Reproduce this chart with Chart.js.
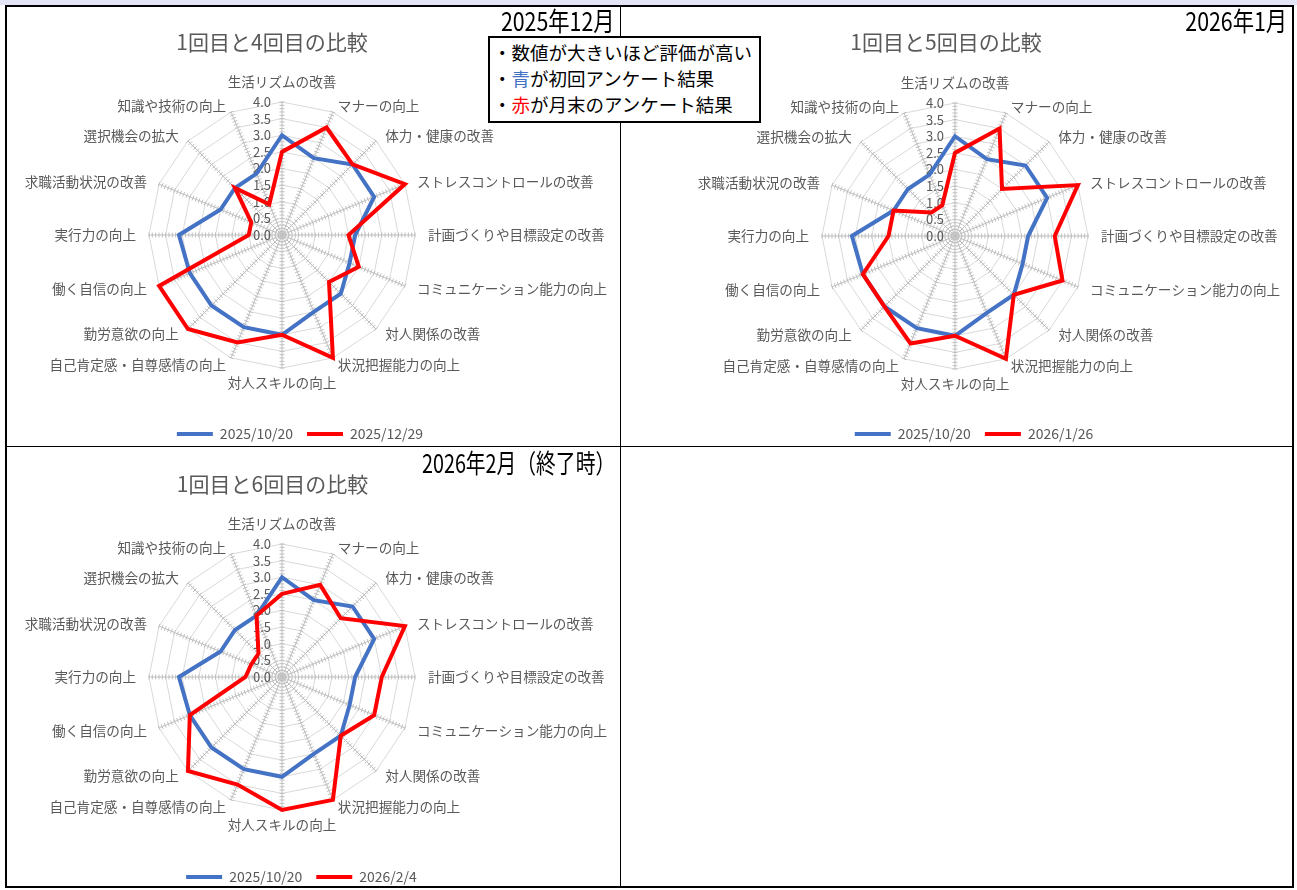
<!DOCTYPE html>
<html>
<head>
<meta charset="utf-8">
<script src="https://cdn.jsdelivr.net/npm/chart.js@4.4.1/dist/chart.umd.min.js"></script>
<style>
  html, body { margin: 0; padding: 0; background: #fff; overflow: hidden; }
  body { width: 1297px; height: 890px; position: relative; font-family: "Noto Sans CJK JP", sans-serif; }
  #band { position: absolute; left: 0; top: 0; width: 1297px; height: 5px; background: #e3e5f7; }
  #frame { position: absolute; left: 5px; top: 5px; width: 1285px; height: 879px; border: 2px solid #000; }
  .vline { position: absolute; left: 620px; top: 6px; width: 1px; height: 880px; background: #000; }
  .hline { position: absolute; left: 6px; top: 446px; width: 1286px; height: 1px; background: #000; }
  canvas { position: absolute; }
  .period { position: absolute; font-size: 26px; line-height: 1; color: #000; white-space: nowrap;
            transform: scaleX(0.82); transform-origin: right top; }
  #note { position: absolute; left: 488px; top: 36px; width: 266px; height: 82px; border: 2px solid #000;
          background: #fff; font-size: 18.5px; line-height: 26px; padding: 1px 0 0 3px; box-sizing: content-box;
          color: #000; white-space: nowrap; }
  #note .b { color: #4472c4; }
  #note .r { color: #ff0000; }
</style>
</head>
<body>
<div id="band"></div>
<div id="frame"></div>
<div class="vline"></div>
<div class="hline"></div>

<canvas id="c1" width="614" height="444" style="left:7px;top:7px"></canvas>
<canvas id="c2" width="669" height="444" style="left:622px;top:7px"></canvas>
<canvas id="c3" width="614" height="446" style="left:7px;top:448px"></canvas>

<div class="period" style="right:682px;top:7px">2025年12月</div>
<div class="period" style="right:10px;top:7px">2026年1月</div>
<div class="period" style="right:682px;top:449px;transform:scaleX(0.76)">2026年2月（終了時）</div>

<div id="note">
  <div>・数値が大きいほど評価が高い</div>
  <div>・<span class="b">青</span>が初回アンケート結果</div>
  <div>・<span class="r">赤</span>が月末のアンケート結果</div>
</div>

<script>
const categories = [
  '生活リズムの改善', 'マナーの向上', '体力・健康の改善', 'ストレスコントロールの改善',
  '計画づくりや目標設定の改善', 'コミュニケーション能力の向上', '対人関係の改善', '状況把握能力の向上',
  '対人スキルの向上', '自己肯定感・自尊感情の向上', '勤労意欲の向上', '働く自信の向上',
  '実行力の向上', '求職活動状況の改善', '選択機会の拡大', '知識や技術の向上'
];

// 初回 (2025/10/20)
const first = [3.0, 2.5, 3.0, 3.0, 2.2, 2.2, 2.5, 2.5, 3.0, 3.0, 3.0, 3.0, 3.1, 2.0, 2.0, 2.0];
// 4回目 (2025/12/29)
const dec29 = [2.5, 3.5, 3.0, 4.0, 2.0, 2.5, 2.0, 4.0, 3.0, 3.5, 4.0, 4.0, 1.0, 1.0, 2.0, 1.0];
// 5回目 (2026/1/26)
const jan26 = [2.5, 3.5, 2.0, 4.0, 3.0, 3.5, 2.5, 4.0, 3.0, 3.5, 3.0, 3.0, 2.0, 2.0, 1.0, 1.0];
// 6回目 (2026/2/4)
const feb4 = [2.5, 3.0, 2.5, 4.0, 3.0, 3.0, 2.5, 4.0, 4.0, 3.5, 4.0, 3.0, 1.1, 1.0, 1.0, 2.0];

const seriesLabels = ['2025/10/20', '2025/12/29', '2026/1/26', '2026/2/4'];
const titles = ['1回目と4回目の比較', '1回目と5回目の比較', '1回目と6回目の比較'];
const tickLabels = ['0.0', '0.5', '1.0', '1.5', '2.0', '2.5', '3.0', '3.5', '4.0'];

const BLUE = '#4472c4';
const RED = '#ff0000';
const TEXT = '#595959';
const FONT = '"Noto Sans CJK JP", sans-serif';

Chart.defaults.font.family = FONT;
Chart.defaults.color = TEXT;

// spokes with small tick marks, value labels and category labels
const webPlugin = {
  id: 'web',
  beforeDatasetsDraw(chart) {
    const s = chart.scales.r;
    const ctx = chart.ctx;
    const n = chart.data.labels.length;
    ctx.save();

    ctx.strokeStyle = '#bfbfbf';
    ctx.lineWidth = 1;
    ctx.beginPath();
    for (let i = 0; i < n; i++) {
      const a = s.getIndexAngle(i) - Math.PI / 2;
      const nx = -Math.sin(a), ny = Math.cos(a);
      for (let k = 1; k <= 40; k++) {
        const p = s.getPointPosition(i, s.getDistanceFromCenterForValue(k / 10));
        ctx.moveTo(p.x - nx * 2.5, p.y - ny * 2.5);
        ctx.lineTo(p.x + nx * 2.5, p.y + ny * 2.5);
      }
    }
    ctx.stroke();

    ctx.fillStyle = TEXT;
    ctx.font = '13px ' + FONT;
    ctx.textAlign = 'right';
    ctx.textBaseline = 'middle';
    s.ticks.forEach((t, j) => {
      const y = s.yCenter - s.getDistanceFromCenterForValue(t.value);
      ctx.fillText(tickLabels[j], s.xCenter - 11, y);
    });

    ctx.font = '13.6px ' + FONT;
    const R = s.drawingArea;
    chart.data.labels.forEach((lab, i) => {
      const th = s.getIndexAngle(i);
      const sx = Math.sin(th), cy = Math.cos(th);
      let x = s.xCenter + sx * (R + 13);
      let y = s.yCenter - cy * (R + 7);
      if (Math.abs(sx) < 0.01) {
        ctx.textAlign = 'center';
        x = s.xCenter;
        y = cy > 0 ? s.yCenter - R - 20 : s.yCenter + R + 15;
      } else {
        ctx.textAlign = sx > 0 ? 'left' : 'right';
      }
      ctx.fillText(lab, x, y);
    });
    ctx.restore();
  }
};

// move the title horizontally like the original sheet
const shiftPlugin = {
  id: 'shift',
  afterLayout(chart, args, opts) {
    const t = chart.titleBlock;
    if (t && opts.title) { t.left += opts.title; t.right += opts.title; }
  }
};

function makeRadar(id, title, second, secondLabel, geo) {
  new Chart(document.getElementById(id), {
    type: 'radar',
    data: {
      labels: categories,
      datasets: [
        {
          label: seriesLabels[0],
          data: first,
          borderColor: BLUE,
          backgroundColor: BLUE,
          borderWidth: 4,
          fill: false,
          pointRadius: 0,
          order: 1
        },
        {
          label: secondLabel,
          data: second,
          borderColor: RED,
          backgroundColor: RED,
          borderWidth: 4,
          fill: false,
          pointRadius: 0,
          order: 0
        }
      ]
    },
    options: {
      responsive: false,
      animation: false,
      devicePixelRatio: 1,
      layout: { padding: { left: geo.padL, right: geo.padR, top: 0, bottom: 0 } },
      plugins: {
        title: {
          display: true,
          text: title,
          color: TEXT,
          font: { size: 21, weight: 'normal' },
          padding: { top: geo.titleTop, bottom: 0 }
        },
        legend: {
          position: 'bottom',
          labels: {
            boxWidth: 36,
            boxHeight: 4,
            padding: 14,
            color: TEXT,
            font: { size: 14 },
            sort: (a, b) => a.datasetIndex - b.datasetIndex,
            generateLabels: (chart) =>
              Chart.defaults.plugins.legend.labels.generateLabels(chart).map(l => {
                l.fillStyle = l.strokeStyle;
                l.lineWidth = 0;
                return l;
              })
          }
        },
        tooltip: { enabled: false },
        shift: { title: geo.titleShift }
      },
      scales: {
        r: {
          min: 0,
          max: 4,
          ticks: { stepSize: 0.5, display: false },
          pointLabels: { display: false },
          grid: { color: '#d9d9d9', lineWidth: 1 },
          angleLines: { color: '#bfbfbf', lineWidth: 1 },
          afterFit: (s) => {
            s.xCenter = geo.cx;
            s.yCenter = geo.cy;
            s.drawingArea = geo.r;
          }
        }
      }
    },
    plugins: [webPlugin, shiftPlugin]
  });
}

makeRadar('c1', titles[0], dec29, seriesLabels[1],
  { cx: 275, cy: 228, r: 133, padL: 0, padR: 28, titleTop: 22, titleShift: -28 });
makeRadar('c2', titles[1], jan26, seriesLabels[2],
  { cx: 333, cy: 229, r: 133, padL: 35, padR: 0, titleTop: 22, titleShift: -28 });
makeRadar('c3', titles[2], feb4, seriesLabels[3],
  { cx: 275, cy: 229, r: 133, padL: 0, padR: 25, titleTop: 23, titleShift: -29 });
</script>
</body>
</html>
